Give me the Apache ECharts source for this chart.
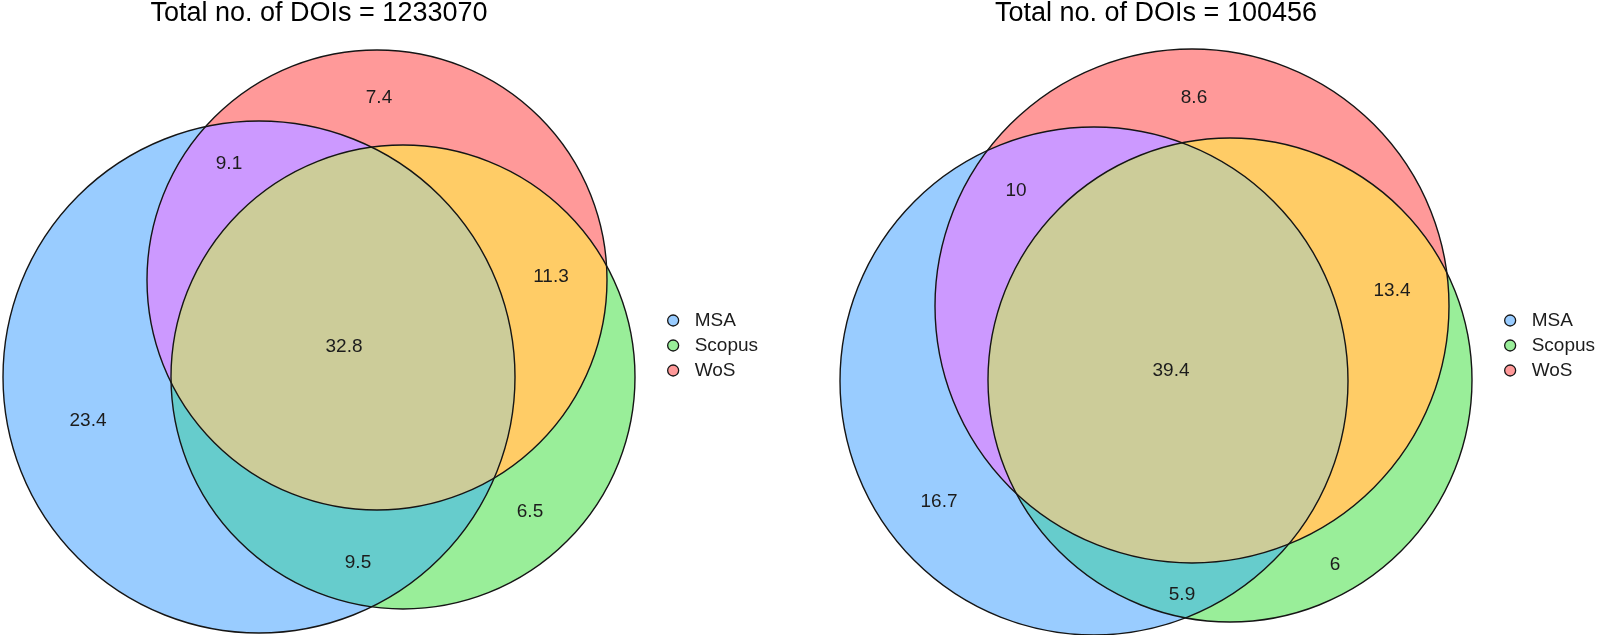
<!DOCTYPE html>
<html>
<head>
<meta charset="utf-8">
<script src="https://cdn.jsdelivr.net/npm/echarts@6/dist/echarts.min.js"></script>
<style>
  html, body { margin: 0; padding: 0; background: #ffffff; }
  #chart { width: 1600px; height: 635px; }
</style>
</head>
<body>
<div id="chart"></div>
<script>
// ---------------- DATA ----------------
const sets = ['MSA', 'Scopus', 'WoS'];
const titles = ['Total no. of DOIs = 1233070', 'Total no. of DOIs = 100456'];
// region membership masks: MSA=1, Scopus=2, WoS=4
const regionMasks = [1, 2, 4, 3, 5, 6, 7];
// percentages per region (same order as regionMasks)
const leftValues  = [23.4, 6.5, 7.4, 9.5, 9.1, 11.3, 32.8];
const rightValues = [16.7, 6, 8.6, 5.9, 10, 13.4, 39.4];
// circle geometry (x, y, radius) in diagram units, order = sets
const leftCircles  = [[25.9, 25.8, 25.6], [40.3, 25.8, 23.2], [37.7, 35.5, 23.0]];
const rightCircles = [[29.4, 25.4, 25.4], [43.0, 25.5, 24.2], [39.2, 32.9, 25.7]];
// label anchor of each region (diagram units), order = regionMasks
const leftLabelPos  = [[8.8, 21.4], [53.0, 12.3], [37.9, 53.7], [35.8, 7.2], [22.9, 47.1], [55.1, 35.8], [34.4, 28.8]];
const rightLabelPos = [[13.9, 13.3], [53.5, 7.0], [39.4, 53.7], [38.2, 4.0], [21.6, 44.4], [59.2, 34.4], [37.1, 26.4]];

// ---------------- STYLE ----------------
const FONT = "'Liberation Sans', Arial, Helvetica, sans-serif";
const setColors = ['#99CCFF', '#99EE99', '#FF9999'];
const regionColors = { 1: '#99CCFF', 2: '#99EE99', 4: '#FF9999', 3: '#66CCCC', 5: '#CC99FF', 6: '#FFCC66', 7: '#CCCC99' };
// draw order so that opaque pieces reproduce every region
const drawOrder = [1, 2, 3, 4, 5, 6, 7];

function inside(x, y, c) {
  const dx = x - c[0], dy = y - c[1];
  return dx * dx + dy * dy <= c[2] * c[2] * (1 + 1e-9);
}

function regionSeries(gi, circles) {
  return {
    type: 'custom', xAxisIndex: gi, yAxisIndex: gi, clip: false, silent: true, z: 1,
    data: drawOrder.map(m => [m]),
    renderItem: function (params, api) {
      const mask = drawOrder[params.dataIndex];
      const members = [0, 1, 2].filter(k => mask & (1 << k));
      const N = 1440;
      const pts = [];
      members.forEach(k => {
        const c = circles[k];
        for (let s = 0; s < N; s++) {
          const t = 2 * Math.PI * s / N;
          const x = c[0] + c[2] * Math.cos(t), y = c[1] + c[2] * Math.sin(t);
          if (members.every(j => j === k || inside(x, y, circles[j]))) pts.push([x, y]);
        }
      });
      let mx = 0, my = 0;
      pts.forEach(p => { mx += p[0]; my += p[1]; });
      mx /= pts.length; my /= pts.length;
      pts.sort((a, b) => Math.atan2(a[1] - my, a[0] - mx) - Math.atan2(b[1] - my, b[0] - mx));
      return {
        type: 'polygon',
        shape: { points: pts.map(p => api.coord(p)) },
        style: { fill: regionColors[mask], stroke: null, lineWidth: 0 }
      };
    }
  };
}

function outlineSeries(gi, circles) {
  return sets.map((name, k) => ({
    name: name, type: 'custom', xAxisIndex: gi, yAxisIndex: gi, clip: false, silent: true, z: 3,
    data: [circles[k]],
    renderItem: function (params, api) {
      const p = api.coord([api.value(0), api.value(1)]);
      const r = api.size([api.value(2), api.value(2)])[0];
      return {
        type: 'circle',
        shape: { cx: p[0], cy: p[1], r: r },
        style: { fill: 'none', stroke: '#151515', lineWidth: 1.4 }
      };
    }
  }));
}

function labelSeries(gi, pos, values) {
  return {
    type: 'custom', xAxisIndex: gi, yAxisIndex: gi, clip: false, silent: true, z: 4,
    data: pos.map((p, i) => [p[0], p[1], values[i]]),
    renderItem: function (params, api) {
      const p = api.coord([api.value(0), api.value(1)]);
      return {
        type: 'text', x: p[0], y: p[1],
        style: {
          text: String(values[params.dataIndex]),
          fill: '#1c1c1c', fontSize: 19, fontFamily: FONT,
          align: 'center', verticalAlign: 'middle',
          textAlign: 'center', textVerticalAlign: 'middle'
        }
      };
    }
  };
}

function legendFor(left, top) {
  return {
    orient: 'vertical', left: left, top: top, padding: 0,
    itemWidth: 11, itemHeight: 11, itemGap: 6, selectedMode: false,
    textStyle: { fontSize: 19, lineHeight: 19, color: '#1c1c1c', fontFamily: FONT, padding: [0, 0, 0, 11] },
    data: sets.map((n, i) => ({
      name: n, icon: 'circle',
      itemStyle: { color: setColors[i], borderColor: '#151515', borderWidth: 1.3 }
    }))
  };
}

const chart = echarts.init(document.getElementById('chart'), null, { renderer: 'canvas' });
chart.setOption({
  animation: false,
  backgroundColor: '#ffffff',
  title: [
    { text: titles[0], left: 319, top: 0, padding: 0, textAlign: 'center',
      textStyle: { fontSize: 27, fontWeight: 'normal', color: '#000', fontFamily: FONT } },
    { text: titles[1], left: 1156, top: 0, padding: 0, textAlign: 'center',
      textStyle: { fontSize: 27, fontWeight: 'normal', color: '#000', fontFamily: FONT } }
  ],
  legend: [legendFor(667, 311), legendFor(1504, 311)],
  grid: [
    { left: 0, top: 0, width: 660, height: 635 },
    { left: 800, top: 0, width: 700, height: 635 }
  ],
  xAxis: [
    { gridIndex: 0, type: 'value', min: 0, max: 66, show: false },
    { gridIndex: 1, type: 'value', min: 0, max: 70, show: false }
  ],
  yAxis: [
    { gridIndex: 0, type: 'value', min: 0, max: 63.5, show: false },
    { gridIndex: 1, type: 'value', min: 0, max: 63.5, show: false }
  ],
  series: [
    regionSeries(0, leftCircles),
    regionSeries(1, rightCircles),
    ...outlineSeries(0, leftCircles),
    ...outlineSeries(1, rightCircles),
    labelSeries(0, leftLabelPos, leftValues),
    labelSeries(1, rightLabelPos, rightValues)
  ]
});
</script>
</body>
</html>
